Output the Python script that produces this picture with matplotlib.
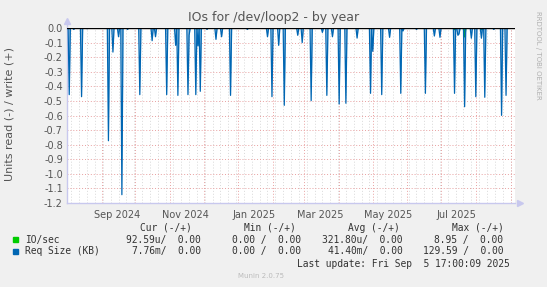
import matplotlib
matplotlib.use('Agg')
import matplotlib.pyplot as plt
import numpy as np

plt.rcParams['axes.unicode_minus'] = False

# Req Size (KB) read spikes (negative = read)
req_dates = ['2024-08-03', '2024-08-07', '2024-08-14', '2024-08-19', '2024-09-07',
             '2024-09-11', '2024-09-16', '2024-09-19', '2024-09-24', '2024-10-05',
             '2024-10-16', '2024-10-19', '2024-10-29', '2024-11-06', '2024-11-08',
             '2024-11-17', '2024-11-18', '2024-11-24', '2024-11-26', '2024-11-28',
             '2024-12-04', '2024-12-12', '2024-12-17', '2024-12-25', '2025-01-09',
             '2025-01-27', '2025-01-31', '2025-02-06', '2025-02-11', '2025-02-23',
             '2025-02-27', '2025-03-07', '2025-03-17', '2025-03-21', '2025-03-26',
             '2025-04-01', '2025-04-07', '2025-04-17', '2025-04-29', '2025-05-01',
             '2025-05-09', '2025-05-16', '2025-05-26', '2025-05-28', '2025-06-09',
             '2025-06-17', '2025-06-25', '2025-06-30', '2025-07-13', '2025-07-16',
             '2025-07-17', '2025-07-22', '2025-07-28', '2025-08-01', '2025-08-06',
             '2025-08-09', '2025-08-17', '2025-08-24', '2025-08-28']
req_vals = [-0.457, -0.01, -0.471, -0.005, -0.773,
            -0.165, -0.06, -1.143, -0.01, -0.457,
            -0.087, -0.06, -0.457, -0.119, -0.462,
            -0.457, -0.05, -0.457, -0.123, -0.434,
            -0.01, -0.078, -0.06, -0.462, -0.01,
            -0.06, -0.471, -0.119, -0.53, -0.05,
            -0.1, -0.498, -0.03, -0.462, -0.06,
            -0.521, -0.516, -0.069, -0.448, -0.16,
            -0.457, -0.064, -0.448, -0.02, -0.01,
            -0.448, -0.055, -0.064, -0.448, -0.05,
            -0.04, -0.54, -0.07, -0.471, -0.07,
            -0.475, -0.01, -0.599, -0.462]

# IO/sec read spikes
io_dates = ['2024-11-25', '2025-07-13', '2025-07-22', '2025-08-06']
io_vals = [-0.005, -0.01, -0.06, -0.01]

label_dates = ['2024-09-15', '2024-11-15', '2025-01-15', '2025-03-15', '2025-05-15', '2025-07-15']
label_text = ['Sep 2024', 'Nov 2024', 'Jan 2025', 'Mar 2025', 'May 2025', 'Jul 2025']

legend_names = ['IO/sec', 'Req Size (KB)']
legend_colors = ['#00CC00', '#0066B3']
cur_vals = ['92.59u/  0.00', '7.76m/  0.00']
min_vals = ['0.00 /  0.00', '0.00 /  0.00']
avg_vals = ['321.80u/  0.00', '41.40m/  0.00']
max_vals = ['8.95 /  0.00', '129.59 /  0.00']

start = np.datetime64('2024-08-01')
end = np.datetime64('2025-09-03')
days = np.arange(start, end + 1, dtype='datetime64[D]')

def daily(dates, vals):
    s = np.zeros(len(days))
    for d, v in zip(dates, vals):
        s[(np.datetime64(d) - start).astype(int)] = v
    return s

req = daily(req_dates, req_vals)
io = daily(io_dates, io_vals)
x = days.astype(object)

W, H = 547, 287
fig = plt.figure(figsize=(W / 100, H / 100), dpi=100, facecolor='#F0F0F0')
ax = fig.add_axes([67 / W, (H - 203) / H, 448 / W, 175 / H])
ax.set_facecolor('white')

# grid: months (major) and weeks (minor)
months = np.arange(np.datetime64('2024-08'), np.datetime64('2025-10'), dtype='datetime64[M]').astype('datetime64[D]')
weeks = np.arange(np.datetime64('2024-08-05'), end + 1, 7, dtype='datetime64[D]')
for w in weeks:
    ax.axvline(w.astype(object), color='#D8D8D8', lw=0.7, ls=(0, (1, 2)), zorder=0)
for m in months:
    ax.axvline(m.astype(object), color='#E8A0A0', lw=0.7, ls=(0, (1, 2)), zorder=1)
yt = np.round(np.arange(-1.2, 0.01, 0.1), 1)
for yv in yt:
    ax.axhline(yv, color='#E8A0A0', lw=0.7, ls=(0, (1, 2)), zorder=1)

ax.plot(x, io, color='#00CC00', lw=1.2, zorder=2)
ax.fill_between(x, req, 0, color='#0066B3', alpha=0.45, lw=0, zorder=3)
ax.plot(x, req, color='#0066B3', lw=0.9, zorder=3)
ax.plot(x, np.where(io < -0.02, io, np.nan), color='#00CC00', lw=1.2, zorder=4)
ax.axhline(0, color='black', lw=1, zorder=5)

ax.set_xlim(start.astype(object), (end + 2).astype(object))
ax.set_ylim(-1.2, 0)
ax.set_yticks(yt)
ax.set_yticklabels(['%.1f' % v for v in yt])
ax.set_xticks([np.datetime64(d).astype(object) for d in label_dates])
ax.set_xticklabels(label_text)
ax.tick_params(axis='both', length=0, labelsize=7, colors='#555555', pad=3)
ax.tick_params(axis='x', pad=5)

for s in ['top', 'right']:
    ax.spines[s].set_visible(False)
for s in ['left', 'bottom']:
    ax.spines[s].set_color('#C8C8EE')
    ax.spines[s].set_linewidth(1)
ax.plot([0, 0], [1, 1 + 7 / 175], color='#C8C8EE', lw=1, transform=ax.transAxes, clip_on=False)
ax.plot(0, 1 + 7 / 175, marker='^', color='#C8C8EE', ms=5, transform=ax.transAxes, clip_on=False)
ax.plot(1 + 5 / 448, 0, marker='>', color='#C8C8EE', ms=5, transform=ax.transAxes, clip_on=False)

fig.text(274 / W, 1 - 18 / H, 'IOs for /dev/loop2 - by year', ha='center', va='center', fontsize=9, color='#555555')
fig.text(10 / W, 1 - 114 / H, 'Units read (-) / write (+)', rotation=90, ha='center', va='center', fontsize=8, color='#555555')
fig.text(538 / W, 1 - 55 / H, 'RRDTOOL / TOBI OETIKER', rotation=270, ha='center', va='center', fontsize=5, color='#B0B0B0')

mono = dict(family='DejaVu Sans Mono', fontsize=6.9, color='#333333', va='center')
fig.text(140 / W, 1 - 228 / H, 'Cur (-/+)', ha='left', **mono)
fig.text(244 / W, 1 - 228 / H, 'Min (-/+)', ha='left', **mono)
fig.text(347.5 / W, 1 - 228 / H, 'Avg (-/+)', ha='left', **mono)
fig.text(451.5 / W, 1 - 228 / H, 'Max (-/+)', ha='left', **mono)
for i, name in enumerate(legend_names):
    yy = 239.5 + 11.7 * i
    fig.patches.append(plt.Rectangle((13 / W, 1 - (yy + 2.5) / H), 5 / W, 5 / H,
                                     transform=fig.transFigure, color=legend_colors[i]))
    fig.text(25 / W, 1 - yy / H, name, ha='left', **mono)
    fig.text(200.5 / W, 1 - yy / H, cur_vals[i], ha='right', **mono)
    fig.text(301.5 / W, 1 - yy / H, min_vals[i], ha='right', **mono)
    fig.text(402.5 / W, 1 - yy / H, avg_vals[i], ha='right', **mono)
    fig.text(503.5 / W, 1 - yy / H, max_vals[i], ha='right', **mono)
fig.text(509.5 / W, 1 - 264 / H, 'Last update: Fri Sep  5 17:00:09 2025', ha='right', **mono)
fig.text(261 / W, 1 - 276.5 / H, 'Munin 2.0.75', ha='center', va='center', fontsize=5, color='#BBBBBB')

fig.savefig('out.png', dpi=100, facecolor=fig.get_facecolor())
